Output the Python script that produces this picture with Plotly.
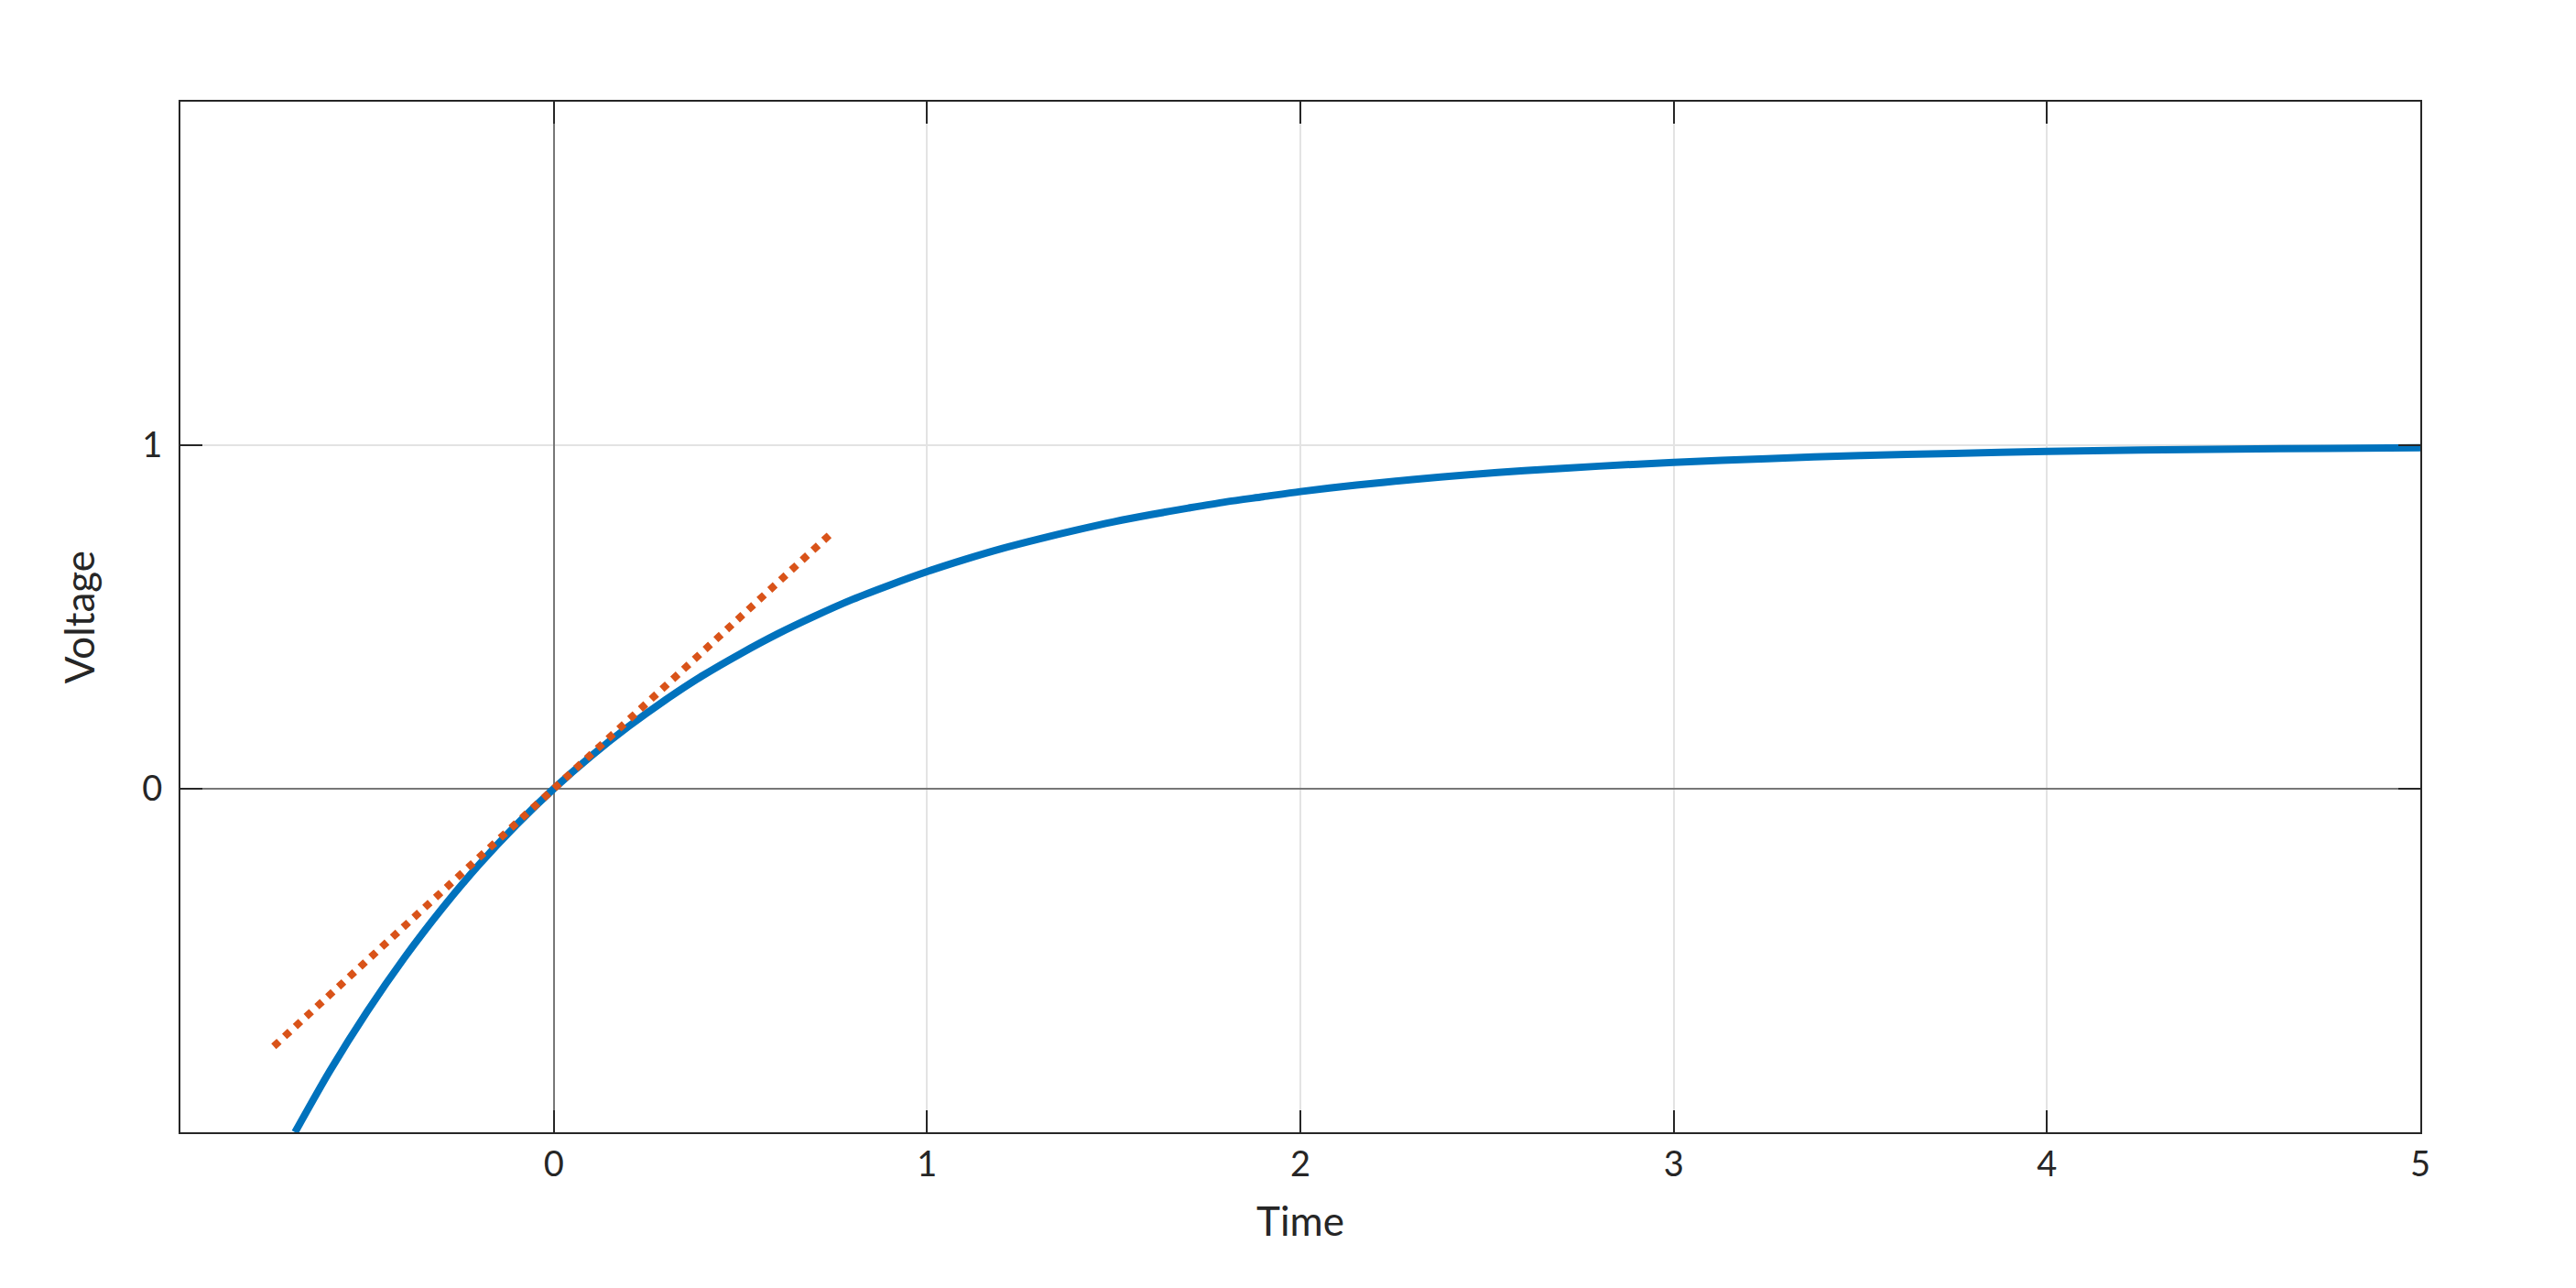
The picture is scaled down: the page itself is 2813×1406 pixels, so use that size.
import plotly.graph_objects as go

# Blue response curve
t_vals = [-0.693, -0.6, -0.5, -0.4, -0.3, -0.2, -0.1, 0.0, 0.1, 0.2, 0.3, 0.4,
          0.5, 0.6, 0.7, 0.8, 0.9, 1.0, 1.1, 1.2, 1.3, 1.4, 1.5, 1.6, 1.7,
          1.8, 1.9, 2.0, 2.15, 2.3, 2.45, 2.6, 2.8, 3.0, 3.25, 3.5, 3.75,
          4.0, 4.25, 4.5, 4.75, 5.0]
v_vals = [-1.0, -0.822, -0.649, -0.492, -0.350, -0.221, -0.105, 0.0, 0.095,
          0.181, 0.259, 0.330, 0.393, 0.451, 0.503, 0.551, 0.593, 0.632,
          0.667, 0.699, 0.727, 0.753, 0.777, 0.798, 0.817, 0.835, 0.850,
          0.865, 0.884, 0.900, 0.914, 0.926, 0.939, 0.950, 0.961, 0.970,
          0.976, 0.982, 0.986, 0.989, 0.991, 0.993]

# Red dotted tangent line
tan_t = [-0.75, 0.75]
tan_v = [-0.75, 0.75]

x_ticks = [0, 1, 2, 3, 4, 5]
y_ticks = [0, 1]

FONT = "Lato"
TXT = "#262626"

fig = go.Figure()
fig.add_trace(go.Scatter(x=t_vals, y=v_vals, mode="lines",
                         line=dict(color="#0072BD", width=8, shape="spline", smoothing=0.8),
                         showlegend=False))
fig.add_trace(go.Scatter(x=tan_t, y=tan_v, mode="lines",
                         line=dict(color="#D95319", width=8, dash="dot"),
                         showlegend=False))

axis_common = dict(
    showline=True, linecolor=TXT, linewidth=2, mirror="ticks",
    ticks="inside", ticklen=24, tickwidth=2, tickcolor=TXT,
    showgrid=True, gridcolor="#e3e3e3", gridwidth=2,
    zeroline=True, zerolinecolor="#777777", zerolinewidth=2,
    tickfont=dict(family=FONT, size=38, color=TXT),
)

fig.update_xaxes(range=[-1, 5], tickvals=x_ticks, ticktext=[str(v) for v in x_ticks],
                 title=dict(text="Time", font=dict(family=FONT, size=44, color=TXT), standoff=28),
                 **axis_common)
fig.update_yaxes(range=[-1, 2], tickvals=y_ticks, ticktext=[str(v) for v in y_ticks],
                 ticklabelstandoff=10,
                 title=dict(text="Voltage", font=dict(family=FONT, size=44, color=TXT), standoff=38),
                 **axis_common)

# page body has an 8px margin; size the figure to sit inside the window
fig.update_layout(
    width=2797, height=1390,
    margin=dict(l=189, r=162, t=103, b=162),
    plot_bgcolor="white", paper_bgcolor="white",
    font=dict(family=FONT, color=TXT),
)

fig.write_html("out.html")
